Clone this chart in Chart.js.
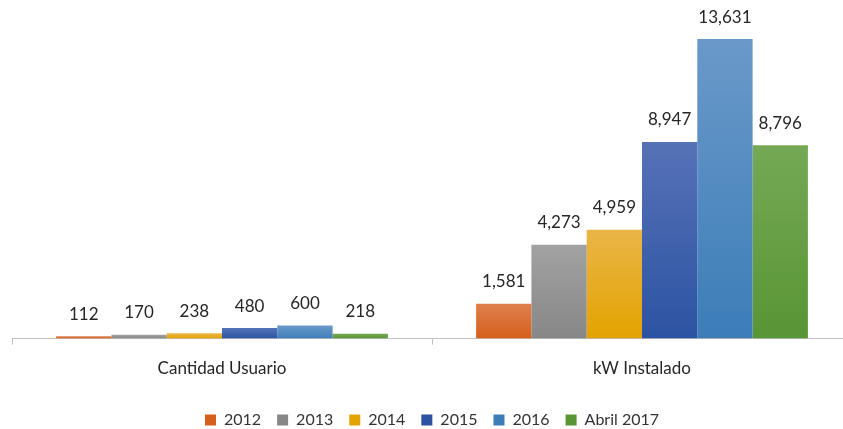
<!DOCTYPE html>
<html>
<head>
<meta charset="utf-8">
<script src="https://cdn.jsdelivr.net/npm/chart.js@4/dist/chart.umd.min.js"></script>
<style>
html,body{margin:0;padding:0;background:#fff;overflow:hidden;}
#wrap{width:860px;height:429px;position:relative;}
</style>
</head>
<body>
<div id="wrap"><canvas id="c"></canvas></div>
<script>
const categories = ["Cantidad Usuario", "kW Instalado"];
const seriesNames = ["2012", "2013", "2014", "2015", "2016", "Abril 2017"];
const v2012 = [112, 1581];
const v2013 = [170, 4273];
const v2014 = [238, 4959];
const v2015 = [480, 8947];
const v2016 = [600, 13631];
const vAbril2017 = [218, 8796];
const seriesValues = [v2012, v2013, v2014, v2015, v2016, vAbril2017];

const baseColors = ["#d4601c", "#878787", "#e3a300", "#2c53a2", "#3c7db8", "#589535"];
const topColors  = ["#df7f4e", "#a2a2a2", "#eab548", "#5672b7", "#6a99c9", "#75a955"];
const FONT = 'Lato, "Open Sans", sans-serif';

function gradFor(i){
  return function(ctx){
    const chart = ctx.chart;
    const area = chart.chartArea;
    if (!area || ctx.type !== 'data') return baseColors[i];
    const y = chart.scales.y;
    const top = y.getPixelForValue(ctx.raw);
    const bottom = y.getPixelForValue(0);
    if (!isFinite(top) || Math.abs(bottom - top) < 1) return baseColors[i];
    const g = chart.ctx.createLinearGradient(0, top, 0, bottom);
    g.addColorStop(0, topColors[i]);
    g.addColorStop(1, baseColors[i]);
    return g;
  };
}

const labelPlugin = {
  id: 'valueLabels',
  afterDatasetsDraw(chart){
    const c = chart.ctx;
    c.save();
    c.font = '17px ' + FONT;
    c.fillStyle = '#262626';
    c.textAlign = 'center';
    c.textBaseline = 'middle';
    chart.data.datasets.forEach((ds, di) => {
      const meta = chart.getDatasetMeta(di);
      meta.data.forEach((el, j) => {
        const v = ds.data[j];
        c.fillText(v.toLocaleString('en-US'), el.x, el.y - 22);
      });
    });
    c.restore();
  }
};

const legendShrink = {
  id: 'legendShrink',
  beforeInit(chart){
    const lg = chart.legend;
    if (!lg) return;
    const orig = lg.fit;
    lg.fit = function(){
      orig.call(this);
      this.height -= 9;
    };
  }
};

new Chart(document.getElementById('c'), {
  type: 'bar',
  data: {
    labels: categories,
    datasets: seriesNames.map((n, i) => ({
      label: n,
      data: seriesValues[i],
      backgroundColor: gradFor(i),
      borderWidth: 0,
      categoryPercentage: 0.79,
      barPercentage: 1.0
    }))
  },
  options: {
    responsive: true,
    maintainAspectRatio: false,
    animation: false,
    layout: { padding: { left: 12, right: 8, top: 9, bottom: 0 } },
    plugins: {
      tooltip: { enabled: false },
      legend: {
        position: 'bottom',
        labels: {
          boxWidth: 11, boxHeight: 11, padding: 16,
          color: '#333',
          font: { family: FONT, size: 16 },
          generateLabels(chart){
            return chart.data.datasets.map((ds, i) => ({
              text: ds.label, fillStyle: baseColors[i], strokeStyle: baseColors[i],
              lineWidth: 0, hidden: false, datasetIndex: i, fontColor: '#333'
            }));
          }
        }
      }
    },
    scales: {
      x: {
        offset: true,
        grid: { offset: true, drawOnChartArea: false, drawTicks: true, tickLength: 6, color: '#bfbfbf' },
        border: { color: '#bfbfbf', width: 1 },
        ticks: { color: '#262626', padding: 14, font: { family: FONT, size: 17 } },
        afterFit(scale){ scale.height += 3; }
      },
      y: {
        display: false,
        min: 0, max: 15000
      }
    }
  },
  plugins: [labelPlugin, legendShrink]
});
</script>
</body>
</html>
